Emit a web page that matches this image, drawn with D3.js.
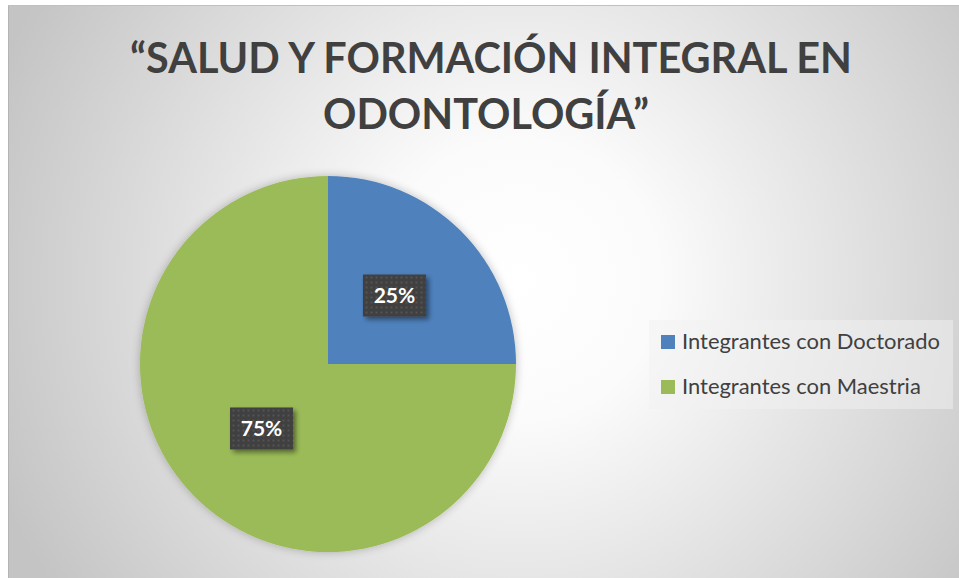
<!DOCTYPE html>
<html>
<head>
<meta charset="utf-8">
<script src="https://cdn.jsdelivr.net/npm/d3@7"></script>
<style>
html,body{margin:0;padding:0;background:#fff;}
svg{display:block;}
</style>
</head>
<body>
<svg id="chart" width="959" height="578"></svg>
<script>
const titleLines = ["\u201CSALUD Y FORMACIÓN INTEGRAL EN", "ODONTOLOGÍA\u201D"];
const categories = ["Integrantes con Doctorado", "Integrantes con Maestria"];
const values = [25, 75];
const labels = ["25%", "75%"];
const colors = ["#4f81bd", "#9bbb59"];

const W = 959, H = 578;
const svg = d3.select("#chart");
const defs = svg.append("defs");

// background gradient
const rg = defs.append("radialGradient").attr("id", "bg")
  .attr("gradientUnits", "userSpaceOnUse")
  .attr("cx", 520).attr("cy", 280).attr("r", 560);
rg.append("stop").attr("offset", "0%").attr("stop-color", "#ffffff");
rg.append("stop").attr("offset", "25%").attr("stop-color", "#fbfbfb");
rg.append("stop").attr("offset", "100%").attr("stop-color", "#c4c4c4");

// pie shadow
const f = defs.append("filter").attr("id", "pieShadow")
  .attr("x", "-20%").attr("y", "-20%").attr("width", "140%").attr("height", "140%");
f.append("feGaussianBlur").attr("in", "SourceAlpha").attr("stdDeviation", 5).attr("result", "b");
f.append("feComponentTransfer").attr("in", "b").attr("result", "b2")
  .append("feFuncA").attr("type", "linear").attr("slope", 0.25);
const fm = f.append("feMerge");
fm.append("feMergeNode").attr("in", "b2");
fm.append("feMergeNode").attr("in", "SourceGraphic");

// label shadow
const f2 = defs.append("filter").attr("id", "lblShadow")
  .attr("x", "-30%").attr("y", "-30%").attr("width", "160%").attr("height", "160%");
f2.append("feGaussianBlur").attr("in", "SourceAlpha").attr("stdDeviation", 2.5).attr("result", "b");
f2.append("feOffset").attr("in", "b").attr("dx", 3).attr("dy", 3).attr("result", "o");
f2.append("feComponentTransfer").attr("in", "o").attr("result", "o2")
  .append("feFuncA").attr("type", "linear").attr("slope", 0.45);
const fm2 = f2.append("feMerge");
fm2.append("feMergeNode").attr("in", "o2");
fm2.append("feMergeNode").attr("in", "SourceGraphic");

// dot pattern
const pat = defs.append("pattern").attr("id", "dots")
  .attr("patternUnits", "userSpaceOnUse").attr("width", 5).attr("height", 5);
pat.append("rect").attr("width", 5).attr("height", 5).attr("fill", "#3f3f3f");
pat.append("rect").attr("x", 1).attr("y", 1).attr("width", 2).attr("height", 2).attr("fill", "#545454");

// chart area
svg.append("rect").attr("x", 8).attr("y", 5).attr("width", W - 8).attr("height", H - 5)
  .attr("fill", "url(#bg)");
svg.append("line").attr("x1", 8.5).attr("x2", 8.5).attr("y1", 5).attr("y2", H)
  .attr("stroke", "#b4b4b4").attr("stroke-width", 1);
svg.append("line").attr("x1", 8).attr("x2", W).attr("y1", 5.5).attr("y2", 5.5)
  .attr("stroke", "#c0c0c0").attr("stroke-width", 1);

// title
const fontFam = "Lato, 'Open Sans', sans-serif";
const tY = [73, 129];
const t1 = svg.append("text").attr("x", 491).attr("y", tY[0])
  .attr("text-anchor", "middle").attr("font-family", fontFam)
  .attr("font-weight", 700).attr("font-size", 38).attr("fill", "#404040")
  .text(titleLines[0]);
const w1 = t1.node().getComputedTextLength();
const titleSize = 38 * 722 / w1;
t1.attr("font-size", titleSize);
svg.append("text").attr("x", 486).attr("y", tY[1])
  .attr("text-anchor", "middle").attr("font-family", fontFam)
  .attr("font-weight", 700).attr("font-size", titleSize).attr("fill", "#404040")
  .text(titleLines[1]);

// pie
const cx = 328, cy = 364, r = 188;
const pie = d3.pie().sort(null).value(d => d)(values);
const arc = d3.arc().innerRadius(0).outerRadius(r);
const g = svg.append("g").attr("transform", `translate(${cx},${cy})`);
g.append("g").attr("filter", "url(#pieShadow)")
  .selectAll("path").data(pie).join("path")
  .attr("d", arc).attr("fill", (d, i) => colors[i]);

// labels
const lblArc = d3.arc().innerRadius(0).outerRadius(r * 1.0);
const lw = 63, lh = 42;
pie.forEach((d, i) => {
  const [x, y] = lblArc.centroid(d);
  const lg = g.append("g").attr("transform", `translate(${x},${y - 2})`);
  lg.append("rect").attr("x", -lw / 2).attr("y", -lh / 2).attr("width", lw).attr("height", lh)
    .attr("fill", "url(#dots)").attr("filter", "url(#lblShadow)");
  lg.append("text").attr("text-anchor", "middle").attr("dy", "0.36em")
    .attr("font-family", fontFam).attr("font-weight", 700).attr("font-size", 21)
    .attr("fill", "#ffffff").text(labels[i]);
});

// legend
const leg = svg.append("g");
leg.append("rect").attr("x", 649).attr("y", 320).attr("width", 304).attr("height", 89)
  .attr("fill", "#f2f2f2").attr("fill-opacity", 0.5);
const legY = [342, 387];
categories.forEach((c, i) => {
  leg.append("rect").attr("x", 661).attr("y", legY[i] - 7).attr("width", 14).attr("height", 14)
    .attr("fill", colors[i]);
  const t = leg.append("text").attr("x", 682).attr("y", legY[i] + 7)
    .attr("font-family", fontFam).attr("font-size", 19).attr("fill", "#404040").text(c);
  if (i === 0) {
    const w = t.node().getComputedTextLength();
    leg.attr("data-scale", 19 * 258 / w);
  }
});
const ls = +leg.attr("data-scale");
leg.selectAll("text").attr("font-size", ls);
</script>
</body>
</html>
